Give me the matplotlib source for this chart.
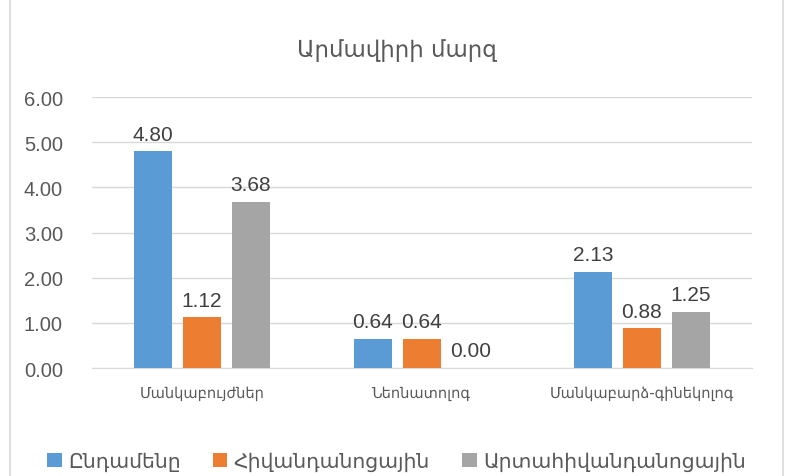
import numpy as np
import matplotlib.pyplot as plt
from matplotlib.patches import Rectangle

title = "Արմավիրի մարզ"
categories = ["Մանկաբույժներ", "Նեոնատոլոգ", "Մանկաբարձ-գինեկոլոգ"]
series_names = ["Ընդամենը", "Հիվանդանոցային", "Արտահիվանդանոցային"]
total = [4.80, 0.64, 2.13]
hospital = [1.12, 0.64, 0.88]
outpatient = [3.68, 0.00, 1.25]
colors = ["#5B9BD5", "#ED7D31", "#A5A5A5"]

num_font = ["Liberation Sans", "DejaVu Sans"]
arm_font = ["DejaVu Sans"]
text_color = "#595959"

fig = plt.figure(figsize=(7.94, 4.77), dpi=100)
ax = fig.add_axes([0.1159, 0.2264, 0.8311, 0.5681])

# chart border
fig.patches.append(Rectangle((0.0126, -0.01), 0.973, 1.02, transform=fig.transFigure,
                             fill=False, edgecolor="#D9D9D9", linewidth=1.2))

x = np.arange(len(categories))
width = 0.173
step = 0.223
for i, (vals, name) in enumerate(zip([total, hospital, outpatient], series_names)):
    bars = ax.bar(x + (i - 1) * step, vals, width, color=colors[i], label=name, zorder=3)
    for b, v in zip(bars, vals):
        ax.text(b.get_x() + b.get_width() / 2, v + 0.17, f"{v:.2f}", ha="center", va="bottom",
                fontsize=15, color="#404040", family=num_font)

ax.set_xlim(-0.5, 2.5)
ax.set_ylim(0, 6)
ax.set_yticks(np.arange(0, 7, 1))
ax.set_yticklabels([f"{t:.2f}" for t in range(7)], fontsize=14.5, color=text_color, family=num_font)
ax.set_xticks(x)
ax.set_xticklabels(categories, fontsize=10.5, color=text_color, family=arm_font)
ax.tick_params(axis="both", length=0)
ax.tick_params(axis="y", pad=21)
ax.tick_params(axis="x", pad=12)
ax.grid(axis="y", color="#D9D9D9", linewidth=1, zorder=0)
for s in ["top", "right", "left"]:
    ax.spines[s].set_visible(False)
ax.spines["bottom"].set_color("#D9D9D9")

fig.text(0.5, 0.895, title, ha="center", va="center", fontsize=16.5, color=text_color, family=arm_font)

fig.legend(loc="center", bbox_to_anchor=(0.4994, 0.03), ncol=3, frameon=False,
           prop={"family": arm_font, "size": 14.7}, handlelength=0.7, handleheight=0.7,
           handletextpad=0.3, columnspacing=1.6, labelcolor=text_color)

fig.savefig("out.png", dpi=100)
